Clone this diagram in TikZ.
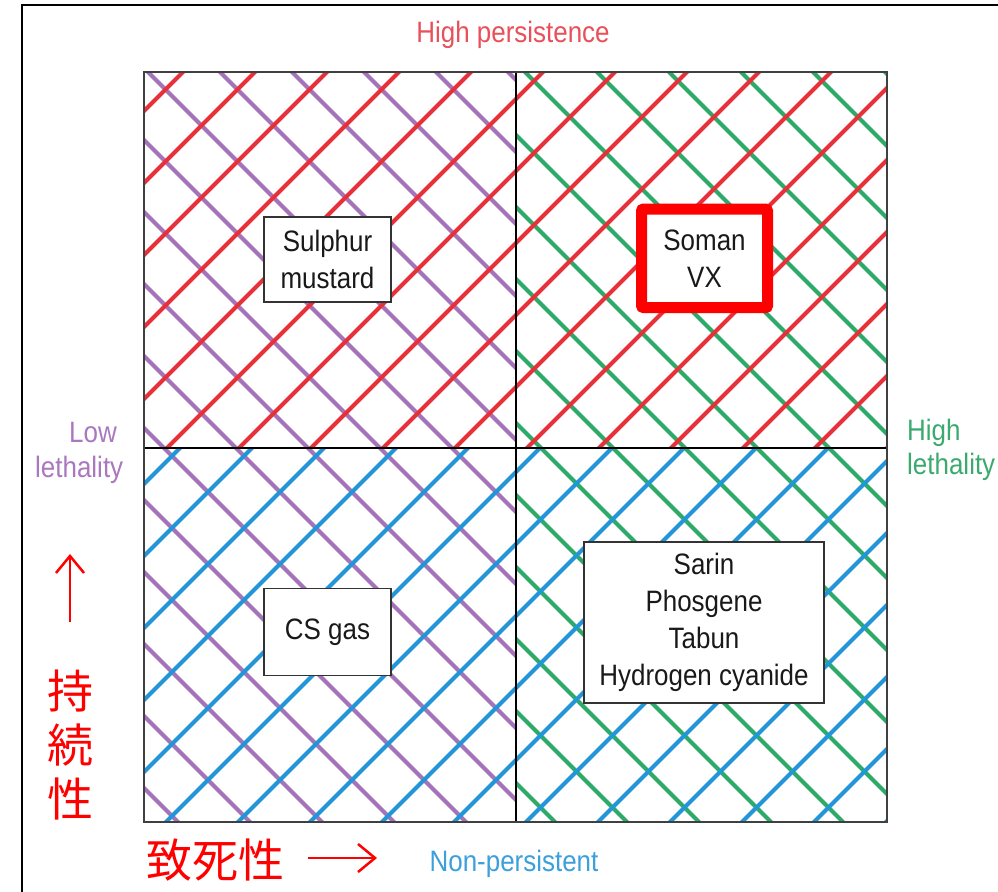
\documentclass[tikz,border=0pt]{standalone}
\usepackage{fontspec}
\setmainfont{Liberation Sans}[FakeStretch=0.88]
\newfontfamily\jpfont{Noto Sans CJK JP}
\usetikzlibrary{arrows.meta}
\definecolor{hred}{RGB}{232,48,56}
\definecolor{hpurple}{RGB}{165,115,185}
\definecolor{hgreen}{RGB}{45,170,105}
\definecolor{hblue}{RGB}{35,150,215}
\definecolor{lred}{RGB}{232,80,90}
\definecolor{lpurple}{RGB}{170,120,190}
\definecolor{lgreen}{RGB}{60,170,110}
\definecolor{lblue}{RGB}{60,160,220}
\newcommand\boxfont{\fontsize{29.5}{37}\selectfont}
\newcommand\jpbig{\fontsize{46}{54}\selectfont\jpfont}
\tikzset{
  hatch/.style={line width=4.2pt},
  labelbox/.style={draw=black!80, line width=1.4pt, fill=white, align=center,
    inner sep=0pt, font=\boxfont, text=black!90},
  axislabel/.style={inner sep=0pt, font=\boxfont},
  jplabel/.style={inner sep=0pt, font=\jpbig, text=red},
  jparrow/.style={red, line width=2.5pt, -{Straight Barb[length=17pt,width=28pt]}},
}
\newcommand\slashes[2]{% color, offset : lines x+y = c
  \foreach \k in {-15,...,25}{
    \pgfmathsetmacro\c{#2+72*\k}
    \draw[hatch,#1] (\c,0) -- (\c-900,900);
  }}
\newcommand\backslashes[2]{% color, offset : lines x-y = c
  \foreach \k in {-20,...,25}{
    \pgfmathsetmacro\c{#2+72*\k}
    \draw[hatch,#1] (\c,0) -- (\c+900,900);
  }}
\begin{document}
\begin{tikzpicture}[x=1pt,y=-1pt]
\useasboundingbox (0,0) rectangle (998,891);
\fill[white] (0,0) rectangle (998,891);
% outer frame
\draw[line width=1.8pt] (22,900) -- (22,5) -- (1005,5);
% hatching
\begin{scope}
  \clip (144,72) rectangle (516,448);
  \backslashes{hpurple}{4}
  \slashes{hred}{255}
\end{scope}
\begin{scope}
  \clip (516,72) rectangle (887,448);
  \backslashes{hgreen}{453}
  \slashes{hred}{255}
\end{scope}
\begin{scope}
  \clip (144,448) rectangle (516,822);
  \backslashes{hpurple}{4}
  \slashes{hblue}{916}
\end{scope}
\begin{scope}
  \clip (516,448) rectangle (887,822);
  \backslashes{hgreen}{453}
  \slashes{hblue}{916}
\end{scope}
% grid
\draw[line width=1.2pt] (516,72) -- (516,822);
\draw[line width=1.2pt] (144,448) -- (887,448);
\draw[line width=1.6pt, black!75] (144,72) rectangle (887,822);
% boxes
\node[labelbox, minimum width=127pt, minimum height=85pt] (sulphur) at (327.5,259.5) {Sulphur\\mustard};
\node[labelbox, draw=red, line width=11pt, rounded corners=2pt, minimum width=126pt, minimum height=98.5pt] (soman) at (704.5,258.3) {Soman\\VX};
\node[labelbox, minimum width=127pt, minimum height=87pt] (cs) at (327.5,632) {CS gas};
\node[labelbox, minimum width=240pt, minimum height=161pt] (sarin) at (704,622.5) {Sarin\\Phosgene\\Tabun\\Hydrogen cyanide};
% axis labels
\node[axislabel, text=lred, anchor=base] (hp) at (513,43) {High persistence};
\node[axislabel, text=lpurple, anchor=base west] (low) at (69,442) {Low};
\node[axislabel, text=lpurple, anchor=base west] (lowleth) at (35,477) {lethality};
\node[axislabel, text=lgreen, anchor=base west] (high) at (907,440) {High};
\node[axislabel, text=lgreen, anchor=base west] (highleth) at (907,474) {lethality};
\node[axislabel, text=lblue, anchor=base] (np) at (514,871) {Non-persistent};
% Japanese labels
\node[jplabel] (lethal) at (215,860) {致死性};
\node[jplabel, align=center] (persist) at (70,745) {持\\続\\性};
\coordinate (ra1) at (308,858);
\coordinate (ra2) at (377,858);
\draw[jparrow] (ra1) -- (ra2);
\coordinate (ua1) at (70,622);
\coordinate (ua2) at (70,554);
\draw[jparrow] (ua1) -- (ua2);
\end{tikzpicture}
\end{document}
